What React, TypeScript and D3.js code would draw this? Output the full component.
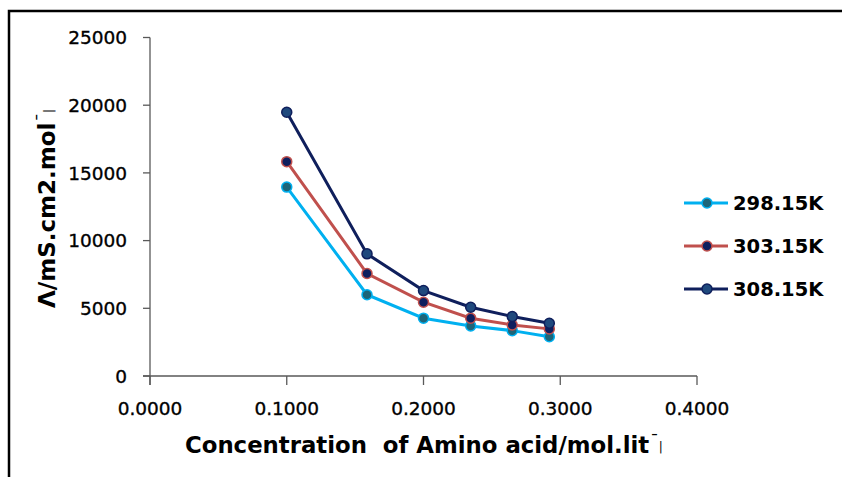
import React from 'react';
import * as d3 from 'd3';

// concentration of amino acid (mol/lit)
const conc = [0.1, 0.1587, 0.2, 0.2345, 0.2649, 0.292];
// molar conductance at each temperature
const k298 = [13950, 6000, 4270, 3700, 3350, 2900];
const k303 = [15830, 7570, 5450, 4270, 3770, 3480];
const k308 = [19480, 9020, 6310, 5080, 4390, 3900];

const seriesNames = ['298.15K', '303.15K', '308.15K'];
const yTicks = [0, 5000, 10000, 15000, 20000, 25000];
const xTicks = [0, 0.1, 0.2, 0.3, 0.4];

const styles = [
  { line: '#00B0F0', fill: '#1D6579', stroke: '#00B0F0' },
  { line: '#C0504D', fill: '#0E1F5E', stroke: '#C0504D' },
  { line: '#0F1F5C', fill: '#1F497D', stroke: '#0F1F5C' },
];

const App = () => {
  const x = d3.scaleLinear().domain([0, 0.4]).range([150, 697]);
  const y = d3.scaleLinear().domain([0, 25000]).range([376, 37.5]);
  const all = [k298, k303, k308];

  const line = d3.line<number>()
    .x((_, i) => x(conc[i]))
    .y(d => y(d));

  const axisColor = '#595959';

  return (
    <svg width={842} height={477} style={{ position: 'absolute', left: 0, top: 0, background: '#fff' }}>
      <rect x={9} y={11} width={900} height={600} fill="none" stroke="#000" strokeWidth={2.5} />

      {/* y axis */}
      <line x1={x(0)} x2={x(0)} y1={y(25000)} y2={y(0) + 9} stroke={axisColor} strokeWidth={1.3} />
      {yTicks.map(t => (
        <g key={t}>
          <line x1={x(0) - 7} x2={x(0)} y1={y(t)} y2={y(t)} stroke={axisColor} strokeWidth={1.3} />
          <text x={127} y={y(t)} dy="0.36em" textAnchor="end" fontFamily="DejaVu Sans" fontSize={18.5}
            fill="#000" stroke="#000" strokeWidth={0.35}>
            {t}
          </text>
        </g>
      ))}

      {/* x axis */}
      <line x1={x(0) - 7} x2={x(0.4)} y1={y(0)} y2={y(0)} stroke={axisColor} strokeWidth={1.3} />
      {xTicks.map(t => (
        <g key={t}>
          <line x1={x(t)} x2={x(t)} y1={y(0)} y2={y(0) + 9} stroke={axisColor} strokeWidth={1.3} />
          <text x={x(t)} y={415} textAnchor="middle" fontFamily="DejaVu Sans" fontSize={18.5}
            fill="#000" stroke="#000" strokeWidth={0.35}>
            {t.toFixed(4)}
          </text>
        </g>
      ))}

      {/* series */}
      {all.map((vals, s) => (
        <g key={s}>
          <path d={line(vals) || ''} fill="none" stroke={styles[s].line} strokeWidth={3} />
          {vals.map((v, i) => (
            <circle key={i} cx={x(conc[i])} cy={y(v)} r={5} fill={styles[s].fill} stroke={styles[s].stroke} strokeWidth={1.5} />
          ))}
        </g>
      ))}

      {/* legend */}
      {seriesNames.map((name, s) => {
        const ly = 203 + s * 43;
        return (
          <g key={name}>
            <line x1={684} x2={728} y1={ly} y2={ly} stroke={styles[s].line} strokeWidth={3} />
            <circle cx={707} cy={ly} r={5} fill={styles[s].fill} stroke={styles[s].stroke} strokeWidth={1.5} />
            <text x={733} y={ly} dy="0.36em" fontFamily="DejaVu Sans" fontWeight="bold" fontSize={19.5} fill="#000">
              {name}
            </text>
          </g>
        );
      })}

      {/* axis titles */}
      <text x={185} y={453} fontFamily="DejaVu Sans" fontWeight="bold" fontSize={22.8} fill="#000" style={{ whiteSpace: 'pre' }}>
        {'Concentration  of Amino acid/mol.lit'}
        <tspan dx={1} dy={-6} fontSize={17} fontWeight="normal">¯</tspan>
        <tspan dx={0} dy={4} fontSize={12} fontWeight="normal">|</tspan>
      </text>
      <text transform="translate(55,308) rotate(-90)" fontFamily="DejaVu Sans" fontWeight="bold" fontSize={23} fill="#000">
        Λ/mS.cm2.mol
        <tspan dx={1} dy={-6} fontSize={17} fontWeight="normal">¯</tspan>
        <tspan dx={0} dy={4} fontSize={12} fontWeight="normal">|</tspan>
      </text>
    </svg>
  );
};

export default App;
